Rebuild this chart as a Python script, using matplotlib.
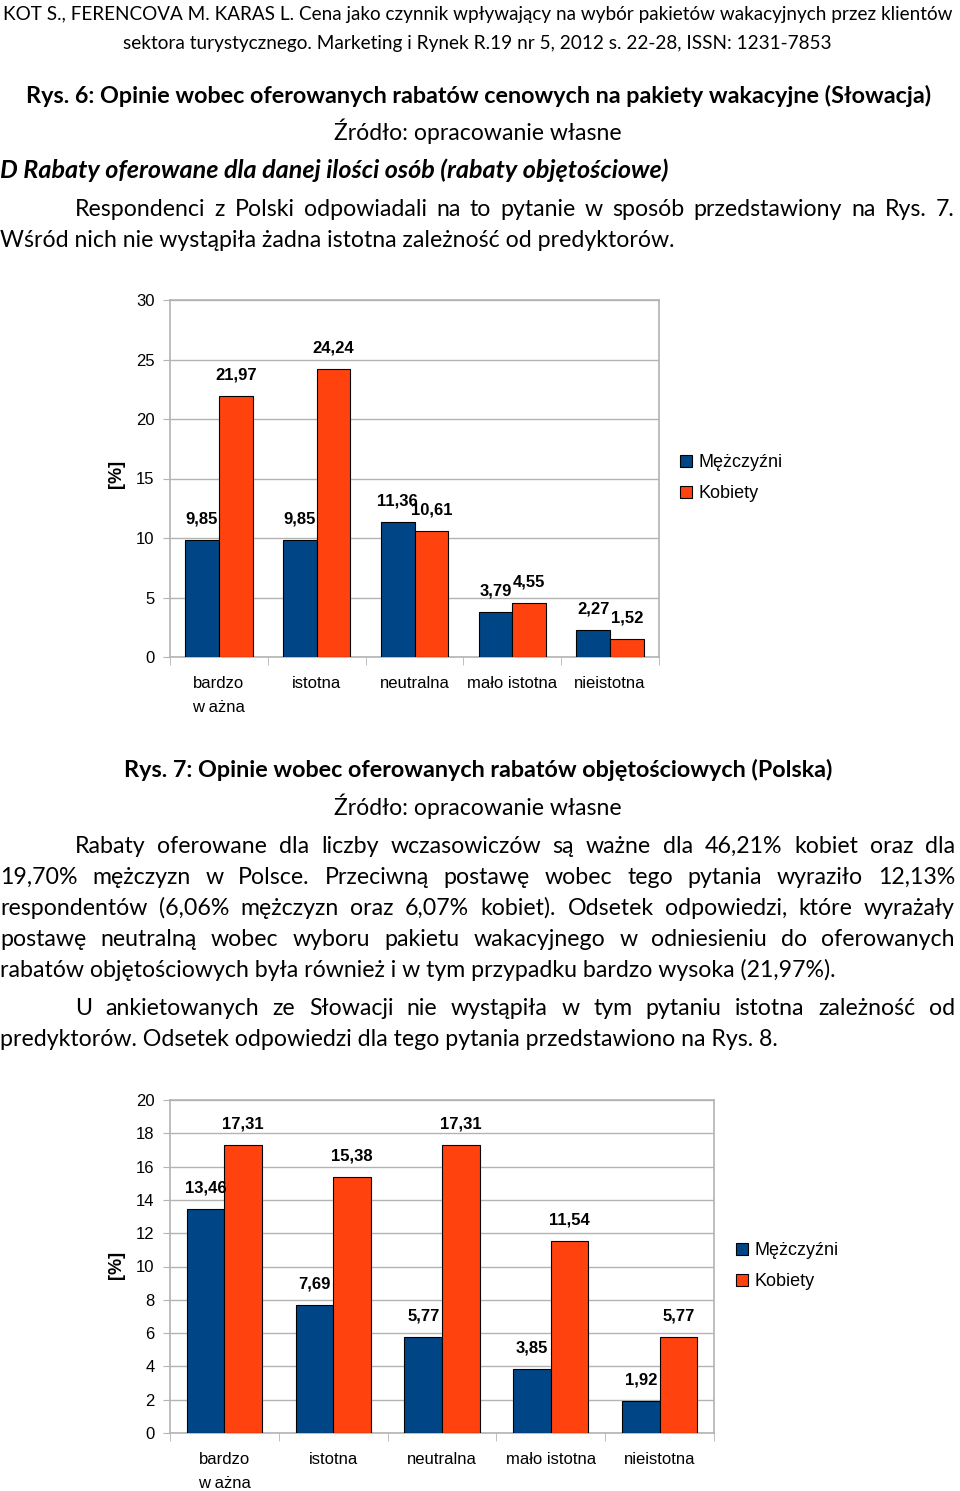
import numpy as np
import matplotlib
matplotlib.use('Agg')
import matplotlib.pyplot as plt
from matplotlib.patches import Patch

# ================= dane =================
categories = ['bardzo\nw ażna', 'istotna', 'neutralna', 'mało istotna', 'nieistotna']
series_names = ['Mężczyźni', 'Kobiety']

# Rys. 7 (Polska)
men_pl = [9.85, 9.85, 11.36, 3.79, 2.27]
women_pl = [21.97, 24.24, 10.61, 4.55, 1.52]

# Rys. 8 (Słowacja)
men_sk = [13.46, 7.69, 5.77, 3.85, 1.92]
women_sk = [17.31, 15.38, 17.31, 11.54, 5.77]

# ================= ustawienia =================
W, H = 960, 1491
BODY = ['Lato', 'DejaVu Sans']
CHART = ['Liberation Sans', 'DejaVu Sans']
BLUE, ORANGE, GRID = '#004586', '#ff420e', '#b3b3b3'

fig = plt.figure(figsize=(W / 100, H / 100), dpi=100)
renderer = fig.canvas.get_renderer()


def px(x, y):
    return x / W, 1 - y / H


def text_width(s, size, **kw):
    t = fig.text(0, 0, s, fontsize=size, family=BODY, **kw)
    w = t.get_window_extent(renderer).width
    t.remove()
    return w


def fit_line(s, x0, x1, y, **kw):
    size = 10 * (x1 - x0) / text_width(s, 10, **kw)
    fig.text(*px((x0 + x1) / 2, y), s, fontsize=size, family=BODY,
             ha='center', va='baseline', **kw)


def left_line(s, x0, y, size):
    fig.text(*px(x0, y), s, fontsize=size, family=BODY, ha='left', va='baseline')


def justify_line(s, x0, x1, y, size):
    words = s.split()
    widths = [text_width(w_, size) for w_ in words]
    gap = (x1 - x0 - sum(widths)) / (len(words) - 1)
    x = x0
    for w_, ww in zip(words, widths):
        fig.text(*px(x, y), w_, fontsize=size, family=BODY, ha='left', va='baseline')
        x += ww + gap


# rozmiar tekstu bazowego dopasowany do szerokości jednej linii
ref_line = 'Wśród nich nie wystąpiła żadna istotna zależność od predyktorów.'
base = 10 * 675 / text_width(ref_line, 10)

# ================= tekst strony =================
fit_line('KOT S., FERENCOVA M. KARAS L. Cena jako czynnik wpływający na wybór pakietów wakacyjnych przez klientów', 5, 950, 20)
fit_line('sektora turystycznego. Marketing i Rynek R.19 nr 5, 2012 s. 22-28, ISSN: 1231-7853', 124, 831, 49)
fit_line('Rys. 6: Opinie wobec oferowanych rabatów cenowych na pakiety wakacyjne (Słowacja)', 24, 933, 103, fontweight='bold')
fit_line('Źródło: opracowanie własne', 334, 622, 140)
fit_line('D Rabaty oferowane dla danej ilości osób (rabaty objętościowe)', 0, 668, 178,
         fontweight='bold', fontstyle='italic')
justify_line('Respondenci z Polski odpowiadali na to pytanie w sposób przedstawiony na Rys. 7.', 75, 955, 216, base)
left_line(ref_line, 0, 247, base)

fit_line('Rys. 7: Opinie wobec oferowanych rabatów objętościowych (Polska)', 122, 834, 777, fontweight='bold')
fit_line('Źródło: opracowanie własne', 334, 622, 815)
justify_line('Rabaty oferowane dla liczby wczasowiczów są ważne dla 46,21% kobiet oraz dla', 75, 955, 853, base)
justify_line('19,70% mężczyzn w Polsce. Przeciwną postawę wobec tego pytania wyraziło 12,13%', 0, 955, 884, base)
justify_line('respondentów (6,06% mężczyzn oraz 6,07% kobiet). Odsetek odpowiedzi, które wyrażały', 0, 955, 915, base)
justify_line('postawę neutralną wobec wyboru pakietu wakacyjnego w odniesieniu do oferowanych', 0, 955, 946, base)
left_line('rabatów objętościowych była również i w tym przypadku bardzo wysoka (21,97%).', 0, 977, base)
justify_line('U ankietowanych ze Słowacji nie wystąpiła w tym pytaniu istotna zależność od', 75, 955, 1015, base)
left_line('predyktorów. Odsetek odpowiedzi dla tego pytania przedstawiono na Rys. 8.', 0, 1046, base)


# ================= wykresy =================
def bar_chart(box, men, women, ymax, step, ylab_xy, legend_xy):
    x0, y0, x1, y1 = box
    ax = fig.add_axes([x0 / W, 1 - y1 / H, (x1 - x0) / W, (y1 - y0) / H])
    x = np.arange(len(categories))
    bw = 0.345
    ax.bar(x - bw / 2, men, bw, color=BLUE, edgecolor='black', linewidth=0.8, zorder=3)
    ax.bar(x + bw / 2, women, bw, color=ORANGE, edgecolor='black', linewidth=0.8, zorder=3)
    for xs, vals in ((x - bw / 2, men), (x + bw / 2, women)):
        for xi, v in zip(xs, vals):
            ax.annotate(f'{v:.2f}'.replace('.', ','), (xi, v), xytext=(0, 15),
                        textcoords='offset points', ha='center', va='center',
                        fontsize=12, fontweight='bold', family=CHART, zorder=4)
    ax.set_xlim(-0.5, len(categories) - 0.5)
    ax.set_ylim(0, ymax)
    ax.set_yticks(np.arange(0, ymax + 0.1, step))
    ax.set_yticklabels([f'{int(t)}' for t in np.arange(0, ymax + 0.1, step)],
                       fontsize=12, family=CHART)
    ax.set_xticks(x)
    ax.set_xticklabels(categories, fontsize=12, family=CHART)
    for t in ax.get_xticklabels():
        t.set_linespacing(1.75)
    ax.set_xticks(np.arange(-0.5, len(categories)), minor=True)
    ax.tick_params(axis='x', which='major', length=0, pad=14)
    ax.tick_params(axis='x', which='minor', length=6, color=GRID)
    ax.tick_params(axis='y', length=5, color=GRID, pad=6)
    ax.grid(axis='y', color=GRID, linewidth=1, zorder=0)
    for sp in ax.spines.values():
        sp.set_color(GRID)
        sp.set_linewidth(1.2)
    fig.text(*px(*ylab_xy), '[%]', rotation=90, fontsize=13, fontweight='bold',
             family=CHART, ha='center', va='center')
    handles = [Patch(facecolor=BLUE, edgecolor='black', linewidth=0.8),
               Patch(facecolor=ORANGE, edgecolor='black', linewidth=0.8)]
    fig.legend(handles, series_names, loc='upper left', bbox_to_anchor=px(*legend_xy),
               frameon=False, prop={'family': CHART, 'size': 13},
               handlelength=0.65, handleheight=0.65, handletextpad=0.4,
               labelspacing=0.8, borderpad=0, borderaxespad=0)
    return ax


bar_chart((170, 300, 659, 657), men_pl, women_pl, 30, 5, (116, 474), (680, 454))
bar_chart((170, 1100, 714, 1433), men_sk, women_sk, 20, 2, (116, 1265), (736, 1242))

fig.savefig('out.png', dpi=100)
